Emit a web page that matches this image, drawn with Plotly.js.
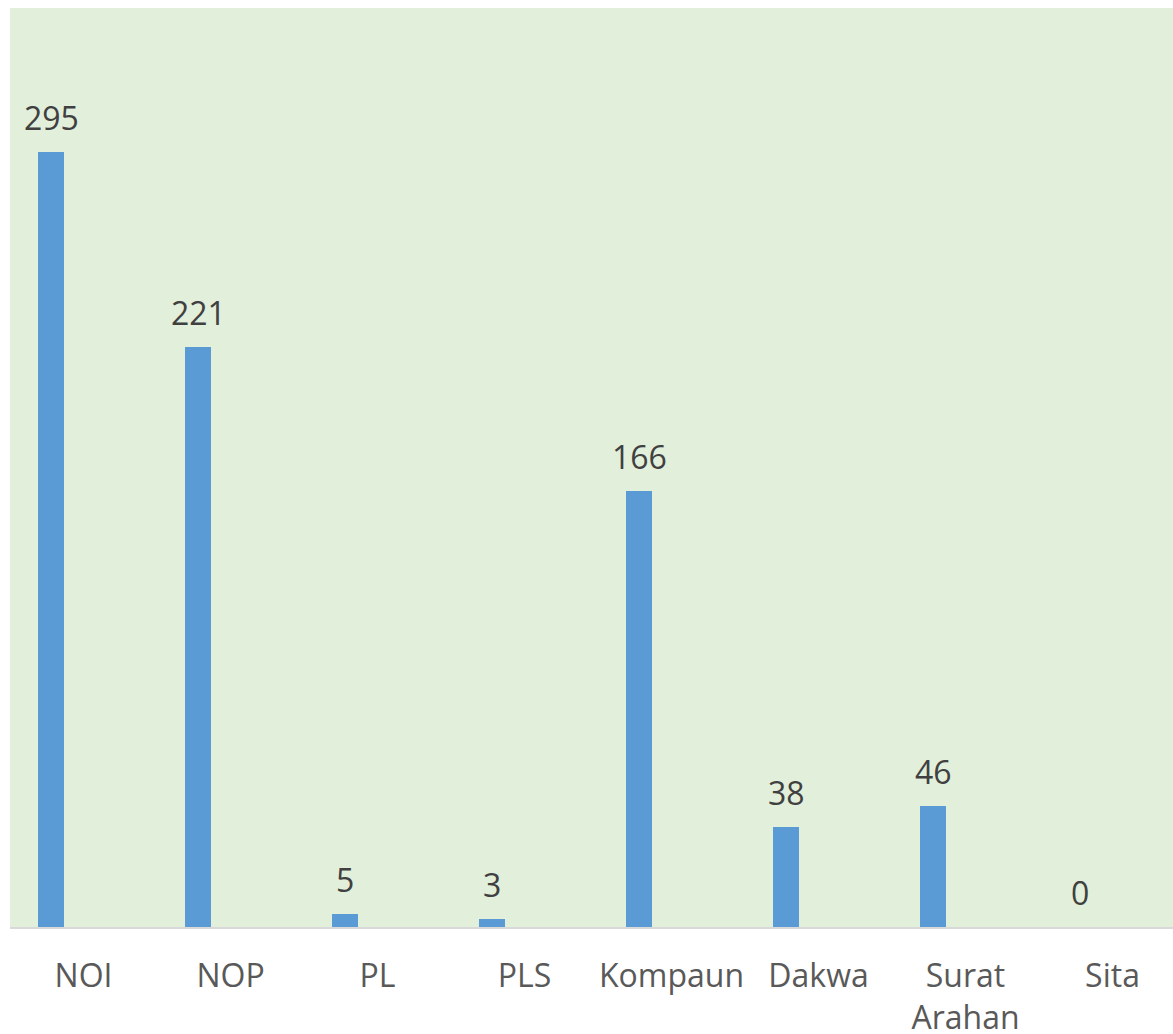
<!DOCTYPE html>
<html>
<head>
<meta charset="utf-8">
<script src="https://cdn.plot.ly/plotly-3.0.1.min.js"></script>
<style>
html,body{margin:0;padding:0;background:#fff;overflow:hidden;}
#chart{width:1173px;height:1034px;}
</style>
</head>
<body>
<div id="chart"></div>
<script>
// Data
var categories = ["NOI", "NOP", "PL", "PLS", "Kompaun", "Dakwa", "Surat Arahan", "Sita"];
var tickLabels = ["NOI", "NOP", "PL", "PLS", "Kompaun", "Dakwa", "Surat<br>Arahan", "Sita"];
var values = [295, 221, 5, 3, 166, 38, 46, 0];

var barOffset = -0.3075;
var barWidth = 0.175;

var trace = {
  type: "bar",
  x: categories,
  y: values,
  offset: barOffset,
  width: barWidth,
  marker: {color: "#5B9BD5"},
  hoverinfo: "x+y",
  showlegend: false
};

var annotations = values.map(function(v, i){
  return {
    x: i + barOffset + barWidth / 2,
    y: v,
    xref: "x", yref: "y",
    text: String(v),
    showarrow: false,
    yanchor: "bottom",
    xanchor: "center",
    yshift: 11,
    font: {family: "Open Sans, sans-serif", size: 32, color: "#404040"}
  };
});

var layout = {
  width: 1173,
  height: 1034,
  margin: {l: 10, r: 0, t: 8, b: 107},
  paper_bgcolor: "#FFFFFF",
  plot_bgcolor: "#E2EFDA",
  font: {family: "Open Sans, sans-serif", size: 32, color: "#595959"},
  xaxis: {
    type: "category",
    categoryorder: "array",
    categoryarray: categories,
    tickvals: categories,
    ticktext: tickLabels,
    range: [-0.5, -0.5 + 1163 / 147],
    showline: true,
    linecolor: "#D9D9D9",
    linewidth: 2,
    showgrid: false,
    zeroline: false,
    ticks: "",
    ticklabelstandoff: 20,
    tickfont: {family: "Open Sans, sans-serif", size: 32, color: "#595959"}
  },
  yaxis: {
    range: [0, 350],
    showgrid: false,
    zeroline: false,
    showline: false,
    showticklabels: false,
    ticks: ""
  },
  annotations: annotations,
  bargap: 0
};

Plotly.newPlot("chart", [trace], layout, {displayModeBar: false, staticPlot: true});
</script>
</body>
</html>
